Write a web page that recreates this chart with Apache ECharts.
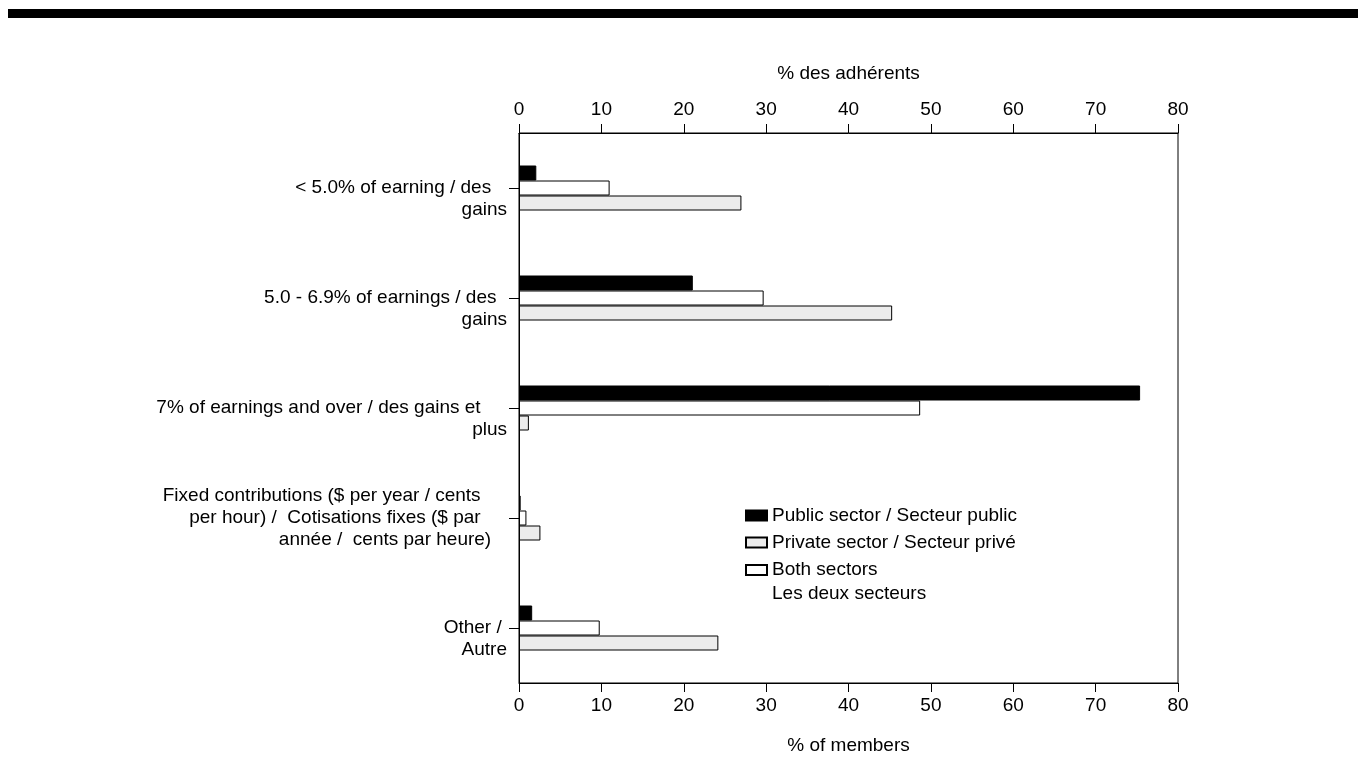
<!DOCTYPE html>
<html><head><meta charset="utf-8">
<script src="https://cdn.jsdelivr.net/npm/echarts@6/dist/echarts.min.js"></script>
<style>html,body{margin:0;padding:0;background:#fff}#c{width:1366px;height:779px}</style>
</head><body><div id="c"></div>
<script>
const categories = [
  "< 5.0% of earning / des   \ngains",
  "5.0 - 6.9% of earnings / des  \ngains",
  "7% of earnings and over / des gains et     \nplus",
  "Fixed contributions ($ per year / cents     \nper hour) /  Cotisations fixes ($ par     \nannée /  cents par heure)   ",
  "Other / \nAutre"
];
const publicSector = [2.1, 21.1, 75.4, 0.2, 1.6];
const bothSectors = [11.0, 29.7, 48.7, 0.9, 9.8];
const privateSector = [27.0, 45.3, 1.2, 2.6, 24.2];
const xMin = 0, xMax = 80, xInterval = 10;

const S_PUB = "Public sector / Secteur public";
const S_PRI = "Private sector / Secteur privé";
const S_BOTH = "Both sectors\nLes deux secteurs";
const FONT = "'Liberation Sans', Arial, sans-serif";

const chart = echarts.init(document.getElementById('c'), null, {renderer: 'canvas'});
const axisCommon = {
  type: 'value', min: xMin, max: xMax, interval: xInterval,
  nameLocation: 'middle',
  nameTextStyle: {fontSize: 19, color: '#000', fontFamily: FONT},
  axisLine: {show: true, lineStyle: {color: '#000', width: 1}},
  axisTick: {show: true, length: 9, lineStyle: {color: '#000'}},
  axisLabel: {fontSize: 19, color: '#000', fontFamily: FONT},
  splitLine: {show: false}
};
const barStyle = (c) => ({color: c, borderColor: '#000', borderWidth: 1});
chart.setOption({
  animation: false,
  backgroundColor: '#fff',
  textStyle: {fontFamily: FONT},
  grid: {left: 519, right: 188, top: 133, bottom: 96, show: true, borderColor: '#000', borderWidth: 1, backgroundColor: 'transparent', containLabel: false, outerBoundsMode: 'none'},
  graphic: [{type: 'rect', left: 8, top: 9, shape: {width: 1350, height: 9}, style: {fill: '#000'}}],
  xAxis: [
    Object.assign({}, axisCommon, {position: 'bottom', name: '% of members', nameGap: 53,
      axisLabel: Object.assign({}, axisCommon.axisLabel, {margin: 13})}),
    Object.assign({}, axisCommon, {position: 'top', name: '% des adhérents', nameGap: 50,
      axisLabel: Object.assign({}, axisCommon.axisLabel, {margin: 14})})
  ],
  yAxis: {
    type: 'category', data: categories, inverse: true,
    axisLine: {show: true, lineStyle: {color: '#000'}},
    axisTick: {show: true, alignWithLabel: true, length: 10, lineStyle: {color: '#000'}},
    axisLabel: {
      fontSize: 19, lineHeight: 22, color: '#000', fontFamily: FONT, margin: 12, align: 'right',
      formatter: (v) => (v.split('\n').length === 2 ? '\n' + v : v)
    },
    splitLine: {show: false}
  },
  legend: [
    {data: [S_PUB, S_PRI], orient: 'vertical', left: 745, top: 506, padding: 0, itemGap: 8,
     itemWidth: 21, itemHeight: 10, icon: 'rect', selectedMode: false,
     textStyle: {fontSize: 19, color: '#000', fontFamily: FONT}},
    {data: [S_BOTH], orient: 'vertical', left: 745, top: 534, padding: 0,
     itemWidth: 21, itemHeight: 10, icon: 'rect', selectedMode: false,
     formatter: (name) => '\n' + name,
     textStyle: {fontSize: 19, color: '#000', fontFamily: FONT, lineHeight: 24}}
  ],
  series: [
    {name: S_PUB, type: 'bar', data: publicSector, barWidth: 15, barGap: '0%', itemStyle: barStyle('#000')},
    {name: S_BOTH, type: 'bar', data: bothSectors, barWidth: 15, barGap: '0%', itemStyle: barStyle('#fff')},
    {name: S_PRI, type: 'bar', data: privateSector, barWidth: 15, barGap: '0%', itemStyle: barStyle('#ececec')}
  ]
});
</script>
</body></html>
